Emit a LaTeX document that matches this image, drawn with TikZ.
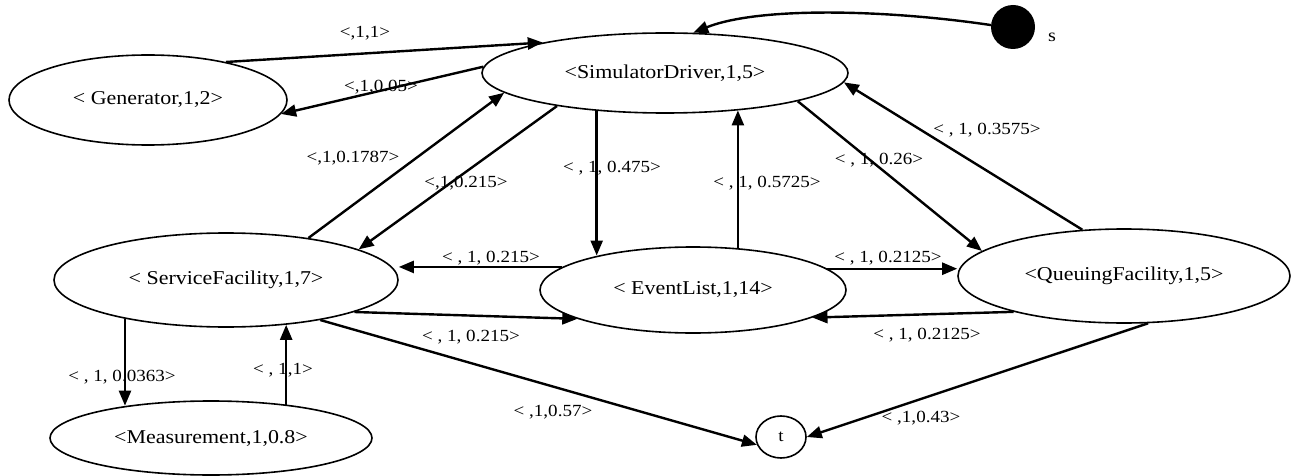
\documentclass[tikz,border=0pt]{standalone}
\usepackage{fontspec}
\setmainfont{Liberation Serif}[FakeStretch=1.12]
\usetikzlibrary{arrows.meta,shapes.geometric}
\begin{document}
\begin{tikzpicture}[x=1pt,y=-1pt,
  el/.style={ellipse,draw,line width=1.6pt,inner sep=0pt,font=\fontsize{19.6}{22}\selectfont},
  ed/.style={line width=2.4pt,-{Triangle[length=15pt,width=12pt]}},
  lb/.style={font=\fontsize{17}{20}\selectfont,inner sep=0pt}]
\useasboundingbox (0,0) rectangle (1293,476);
% nodes
\node[el,minimum width=278pt,minimum height=90pt] (G) at (148,100) {< Generator,1,2>};
\node[el,minimum width=366pt,minimum height=80pt] (D) at (665,73) {<SimulatorDriver,1,5>};
\node[el,minimum width=344pt,minimum height=94pt] (F) at (226,280) {< ServiceFacility,1,7>};
\node[el,minimum width=306pt,minimum height=86pt] (E) at (693,290) {< EventList,1,14>};
\node[el,minimum width=332pt,minimum height=94pt] (Q) at (1124,276) {<QueuingFacility,1,5>};
\node[el,minimum width=322pt,minimum height=74pt] (M) at (211,438) {<Measurement,1,0.8>};
\node[el,minimum width=50pt,minimum height=42pt,font=\fontsize{17}{20}\selectfont] (T) at (781,437) {t};
\node[circle,fill,minimum size=44pt,inner sep=0pt] (S) at (1013,27) {};
\node[lb,font=\fontsize{18}{20}\selectfont] (sl) at (1052,37) {s};
% edges
\draw[ed] (G.26) -- (D.166);
\draw[ed] (D.178) -- (G.-6);
\draw[ed] (S.175) .. controls (890,10) and (760,6) .. (D.55);
\draw[ed] (F.27) -- (D.187);
\draw[ed] (D.197) -- (F.13);
\draw[ed] (D.209) -- (D.209 |- E.160);
\draw[ed] (E.43) -- (E.43 |- D.333);
\draw[ed] (D.348) -- (Q.170);
\draw[ed] (Q.132) -- (D.357);
\draw[ed] (E.170) -- (E.170 -| F.east);
\draw[ed] (F.346) -- (E.194);
\draw[ed] (E.9) -- (E.9 -| Q.west);
\draw[ed] (Q.198) -- (E.347);
\draw[ed] (F.201) -- (F.201 |- M.159);
\draw[ed] (M.24) -- (M.24 |- F.323);
\draw[ed] (F.337) -- (T.198);
\draw[ed] (Q.297) -- (T.east);
% labels
\node[lb] (l1) at (365,33) {<,1,1>};
\node[lb] (l2) at (381,87) {<,1,0.05>};
\node[lb] (l3) at (353,158) {<,1,0.1787>};
\node[lb] (l4) at (466,183) {<,1,0.215>};
\node[lb] (l5) at (612,168) {< , 1, 0.475>};
\node[lb] (l6) at (767,183) {< , 1, 0.5725>};
\node[lb] (l7) at (879,160) {< , 1, 0.26>};
\node[lb] (l8) at (987,130) {< , 1, 0.3575>};
\node[lb] (l9) at (491,258) {< , 1, 0.215>};
\node[lb] (l10) at (471,337) {< , 1, 0.215>};
\node[lb] (l11) at (888,258) {< , 1, 0.2125>};
\node[lb] (l12) at (927,335) {< , 1, 0.2125>};
\node[lb] (l13) at (122,377) {< , 1, 0.0363>};
\node[lb] (l14) at (283,370) {< , 1,1>};
\node[lb] (l15) at (553,412) {< ,1,0.57>};
\node[lb] (l16) at (921,418) {< ,1,0.43>};
\end{tikzpicture}
\end{document}
